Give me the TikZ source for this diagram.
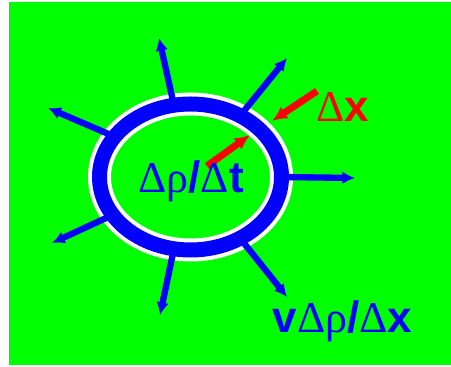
\documentclass[tikz,border=0pt]{standalone}
\usepackage{fontspec}
\setmainfont{Liberation Sans}
\newfontfamily\grk{Liberation Serif}
\usetikzlibrary{shapes.geometric,arrows.meta}
\definecolor{lawn}{RGB}{0,255,0}
\definecolor{flux}{RGB}{0,0,255}
\definecolor{grad}{RGB}{255,0,0}

\begin{document}
\begin{tikzpicture}[
  ring/.style={ellipse,draw=white,line width=1.2mm,double=flux,double distance=4.5mm,minimum width=5.46cm,minimum height=4.38cm,inner sep=0pt,outer sep=0pt},
  spoke/.style={flux,line width=1.9mm,-{Latex[length=3.8mm,width=3.8mm]}},
  dxarr/.style={grad,line width=2.1mm,-{Latex[length=4.5mm,width=4.2mm]}},
  lbl/.style={font=\fontsize{37.5}{40}\selectfont,inner sep=0pt,anchor=base}]
  \fill[white] (0,0) rectangle (13.53,11.01);
  \fill[lawn] (0.27,0.06) rectangle (13.53,10.95);
  \useasboundingbox (0,0) rectangle (13.53,11.01);

  \node[ring] (cell) at (5.715,5.70) {};

  \coordinate (n)  at (4.77,9.87);
  \coordinate (ne) at (8.61,9.27);
  \coordinate (nw) at (1.44,7.77);
  \coordinate (e)  at (10.65,5.67);
  \coordinate (sw) at (1.56,3.72);
  \coordinate (s)  at (4.80,1.56);
  \coordinate (se) at (8.61,2.10);
  \draw[spoke] (cell.103) -- (n);
  \draw[spoke] (cell.51)  -- (ne);
  \draw[spoke] (cell.152) -- (nw);
  \draw[spoke] (cell.0)   -- (e);
  \draw[spoke] (cell.206) -- (sw);
  \draw[spoke] (cell.257) -- (s);
  \draw[spoke] (cell.309) -- (se);

  \coordinate (intail) at (6.21,6.03);
  \coordinate (intip)  at (7.50,6.96);
  \coordinate (extail) at (9.51,8.28);
  \coordinate (extip)  at (8.16,7.38);
  \draw[dxarr] (intail) -- (intip);
  \draw[dxarr] (extail) -- (extip);

  \node[lbl,text=flux] (rate) at (5.73,5.22) {{\grk Δρ}\textbf{/}{\grk Δ}\textbf{t}};
  \node[lbl,text=grad] (dxlbl) at (10.275,7.35) {{\grk Δ}\textbf{x}};
  \node[lbl,text=flux] (fluxlbl) at (10.275,1.02) {\textbf{v}{\grk Δρ}\textbf{/}{\grk Δ}\textbf{x}};
\end{tikzpicture}
\end{document}
